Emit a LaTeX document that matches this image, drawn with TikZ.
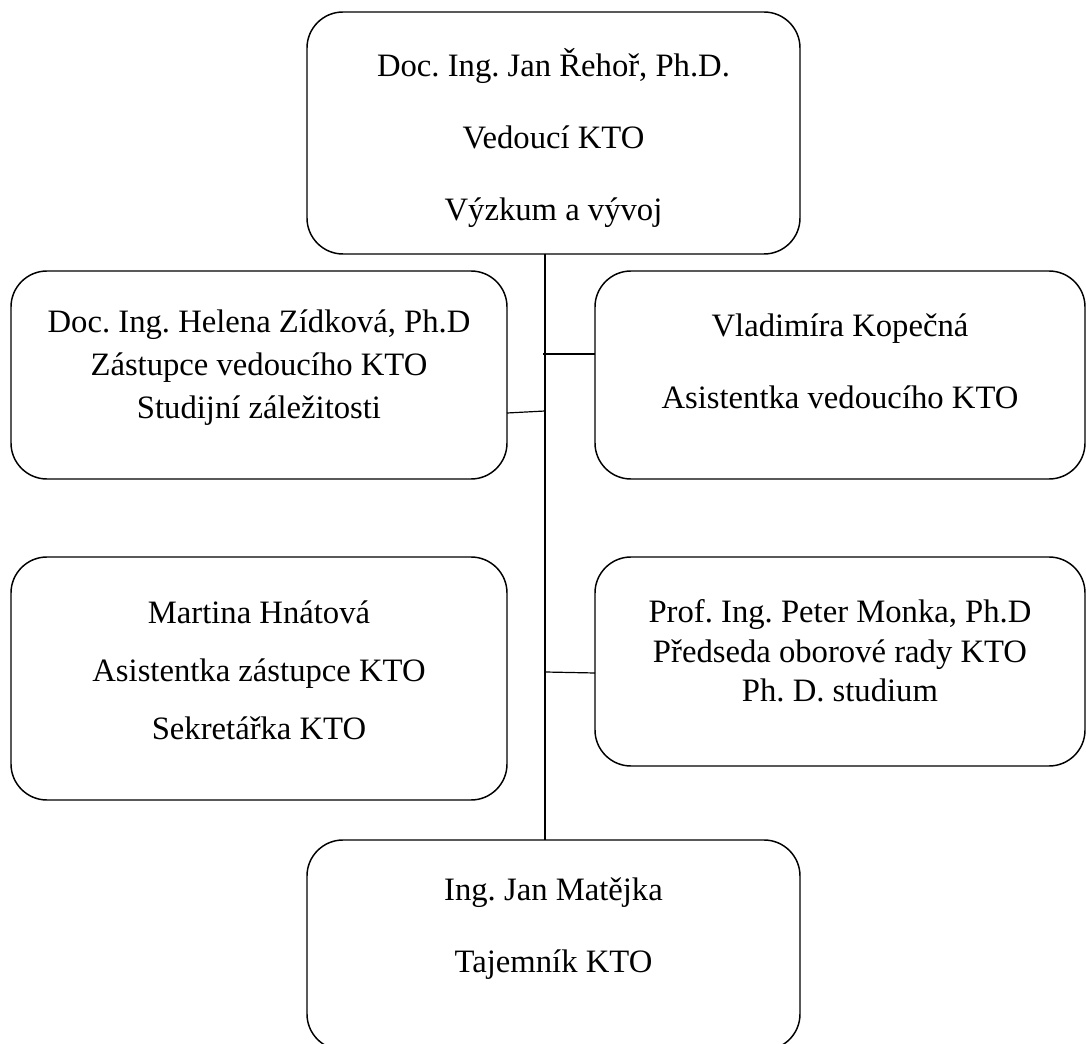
\documentclass[tikz,border=0pt]{standalone}
\usepackage{fontspec}
\setmainfont{Liberation Serif}
\begin{document}
\frenchspacing
\begin{tikzpicture}[x=0.75pt,y=-0.75pt,
  box/.style={draw, line width=1.1pt, rounded corners=27pt, inner sep=0pt, outer sep=0pt, anchor=north west},
  txt/.style={align=center, inner sep=0pt},
  link/.style={draw, line width=0.9pt}]
\useasboundingbox (0,0) rectangle (1086,1044);
% boxes
\node[box, minimum width=369.75pt, minimum height=181.5pt] (top) at (307,12) {};
\node[box, minimum width=372pt, minimum height=156pt] (l1) at (11,271) {};
\node[box, minimum width=367.5pt, minimum height=156pt] (r1) at (595,271) {};
\node[box, minimum width=372pt, minimum height=182.25pt] (l2) at (11,557) {};
\node[box, minimum width=367.5pt, minimum height=156.75pt] (r2) at (595,557) {};
\node[box, minimum width=369.75pt, minimum height=157.5pt] (bot) at (307,840) {};
% texts
\node[txt, font=\fontsize{24.5}{54}\selectfont] (ttop) at (553.5,138.5) {Doc. Ing. Jan Řehoř, Ph.D.\\Vedoucí KTO\\Výzkum a vývoj};
\node[txt, font=\fontsize{24.5}{32}\selectfont] (tl1) at (259,367.5) {Doc. Ing. Helena Zídková, Ph.D\\Zástupce vedoucího KTO\\Studijní záležitosti};
\node[txt, font=\fontsize{24.5}{54}\selectfont] (tr1) at (840,361) {Vladimíra Kopečná\\Asistentka vedoucího KTO};
\node[txt, font=\fontsize{24.5}{43.5}\selectfont] (tl2) at (259,670) {Martina Hnátová\\Asistentka zástupce KTO\\Sekretářka KTO};
\node[txt, font=\fontsize{24.5}{29.5}\selectfont] (tr2) at (840,651) {Prof. Ing. Peter Monka, Ph.D\\Předseda oborové rady KTO\\Ph. D. studium};
\node[txt, font=\fontsize{24.5}{54}\selectfont] (tbot) at (553.5,929) {Ing. Jan Matějka\\Tajemník KTO};
% connectors
\coordinate (s) at (545,0);
\coordinate (j1) at (543,354);
\coordinate (j2) at (545,411);
\coordinate (j3) at (545,672);
\draw[link] (top.south -| s) -- (bot.north -| s);
\draw[link] (j1) -- (j1 -| r1.west);
\draw[link] (j2) -- ([yshift=-1.5pt]j2 -| l1.east);
\draw[link] (j3) -- ([yshift=-0.75pt]j3 -| r2.west);
\end{tikzpicture}
\end{document}
